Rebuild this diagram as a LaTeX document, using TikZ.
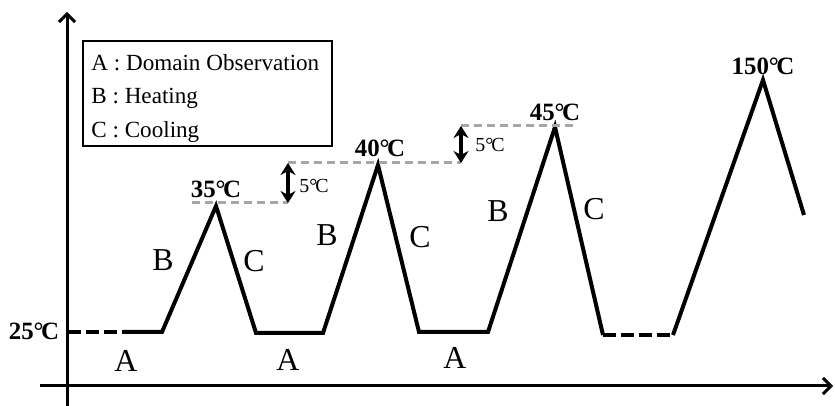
\documentclass[tikz,border=0pt]{standalone}
\usepackage{fontspec}
\setmainfont{Liberation Serif}
\usetikzlibrary{arrows.meta,positioning}
\newcommand{\degC}{\textdegree\kern-0.1em C}

\begin{document}
\begin{tikzpicture}[
    x=0.5bp, y=-0.5bp,
    axis/.style={line width=1.5bp, -{Straight Barb[length=4bp,width=8bp,line width=1.5bp]}},
    trace/.style={line width=2bp},
    hold/.style={line width=2bp, dash pattern=on 6.5bp off 2.5bp},
    level/.style={line width=1.5bp, draw=black!35, dash pattern=on 4bp off 2.5bp},
    gap/.style={line width=1.6bp, {Stealth[length=6bp,width=7.5bp]}-{Stealth[length=6bp,width=7.5bp]}},
    phase/.style={font=\fontsize{16}{19}\selectfont, inner sep=0pt},
    temp/.style={font=\fontsize{12.5}{15}\selectfont\bfseries, inner sep=0pt},
    delta/.style={font=\fontsize{10}{12}\selectfont, inner sep=0pt},
    legend/.style={draw, line width=0.75bp, minimum width=124.5bp, minimum height=52.5bp, inner sep=0pt},
    entry/.style={font=\fontsize{11.6}{14}\selectfont, anchor=base west, inner sep=0pt},
]
\useasboundingbox (0,0) rectangle (835,406);

% Axes
\coordinate (ybot) at (67,406);
\coordinate (ytop) at (67,12);
\coordinate (xleft) at (40,386);
\coordinate (xright) at (833,386);
\draw[axis] (ybot) -- (ytop);
\draw[axis] (xleft) -- (xright);

% Legend
\node[legend] (key) at (207.5,93.5) {};
\node[entry] (keyA) at (91,71) {A : Domain Observation};
\node[entry] (keyB) at (91,104) {B : Heating};
\node[entry] (keyC) at (91,138) {C : Cooling};

% Temperature profile
\coordinate (s0) at (68,332);
\coordinate (s1) at (123,332);
\coordinate (h1) at (162,332);
\coordinate (p1) at (216,206);
\coordinate (c1) at (256,333);
\coordinate (h2) at (323,333);
\coordinate (p2) at (378,165);
\coordinate (c2) at (419,332);
\coordinate (h3) at (488,332);
\coordinate (p3) at (555,127);
\coordinate (c3) at (603,335);
\coordinate (h4) at (673,335);
\coordinate (p4) at (763,80);
\coordinate (e4) at (804,215);

\draw[hold] (s0) -- (s1);
\draw[trace] (s1) -- (h1) -- (p1) -- (c1) -- (h2) -- (p2) -- (c2) -- (h3) -- (p3) -- (c3);
\draw[hold] (c3) -- (h4);
\draw[trace] (h4) -- (p4) -- (e4);

% 5 degree steps
\coordinate (l1a) at (192,203);
\coordinate (l1b) at (288,203);
\coordinate (l2a) at (288,163);
\coordinate (l2b) at (461,163);
\coordinate (l3a) at (461,126);
\coordinate (l3b) at (576,126);
\draw[level] (l1a) -- (l1b);
\draw[level] (l2a) -- (l2b);
\draw[level] (l3a) -- (l3b);
\draw[gap] (l1b) -- (l2a);
\draw[gap] (l2b) -- (l3a);
\node[delta] (d1) at (314,186) {5\degC};
\node[delta] (d2) at (490,145) {5\degC};

% Temperatures
\node[temp] (t25) at (34,331) {25\degC};
\node[temp] (t35) at (216,189) {35\degC};
\node[temp] (t40) at (380,148) {40\degC};
\node[temp] (t45) at (555,112) {45\degC};
\node[temp] (t150) at (763,66) {150\degC};

% Phases
\node[phase] (a1) at (126,361) {A};
\node[phase] (b1) at (163,260) {B};
\node[phase] (c1l) at (254,261) {C};
\node[phase] (a2) at (288,360) {A};
\node[phase] (b2) at (327,235) {B};
\node[phase] (c2l) at (420,237) {C};
\node[phase] (a3) at (455,358) {A};
\node[phase] (b3) at (498,211) {B};
\node[phase] (c3l) at (594,209) {C};

\end{tikzpicture}
\end{document}
